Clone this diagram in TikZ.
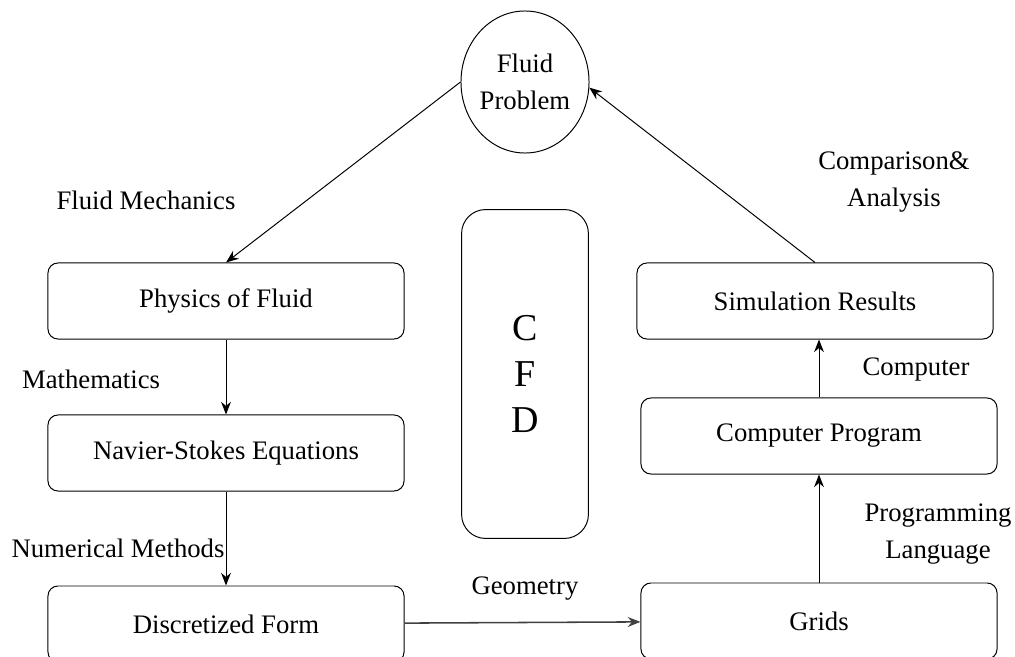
\documentclass[tikz,border=0pt]{standalone}
\usepackage{fontspec}
\setmainfont{LiberationSerif}[Extension=.ttf,UprightFont=*-Regular,BoldFont=*-Bold]
\usetikzlibrary{arrows.meta,shapes.geometric}

\tikzset{
  stepbox/.style={draw,rounded corners=0.25cm,minimum width=8.9cm,minimum height=1.9cm,line width=0.7pt},
  every picture/.style={font=\fontsize{19}{26}\selectfont}
}

\begin{document}
\begin{tikzpicture}[x=0.025cm,y=-0.025cm,>={Stealth[length=9pt,width=7pt]}]

      \useasboundingbox (0,0) rectangle (1015,657);

      \node[draw,ellipse,inner sep=0pt,line width=0.7pt,minimum width=3.17cm,minimum height=3.55cm,align=center] (fp) at (525,82) {Fluid\\Problem};

      \begin{scope}[every node/.style={stepbox}]
        \node (phys) at (226,301) {Physics of Fluid};
        \node (ns)   at (226,453) {Navier-Stokes Equations};
        \node (disc) at (226,624) {Discretized Form};
        \node (grid) at (819,621) {Grids};
        \node (prog) at (819,436) {Computer Program};
        \node (sim)  at (815,301) {Simulation Results};
      \end{scope}

      \node[draw,rounded corners=0.6cm,line width=0.7pt,minimum width=3.17cm,minimum height=8.22cm,align=center,
            font=\fontsize{27}{33}\selectfont] (cfd) at (525,374) {C\\F\\D};

      \begin{scope}[every node/.style={align=center}]
        \node (lfm)  at (146,200) {Fluid Mechanics};
        \node (lmat) at (91,379)  {Mathematics};
        \node (lnum) at (118,548) {Numerical Methods};
        \node (lgeo) at (525,589) {Geometry};
        \node (lcmp) at (894,182) {Comparison\&\\Analysis};
        \node (lcom) at (916,369) {Computer};
        \node (lpl)  at (938,534) {Programming\\Language};
      \end{scope}

      \begin{scope}[every edge/.style={draw,->,line width=0.7pt}]
        \path (fp.west)  edge (phys.north);
        \path (phys)     edge (ns);
        \path (ns)       edge (disc);
        \path (disc)     edge[line width=1.1pt,draw=black!75] (grid);
        \path (grid)     edge (prog);
        \path (prog.north) edge (prog.north |- sim.south);
        \path (sim.north) edge (fp.-5);
      \end{scope}

    \end{tikzpicture}
\end{document}
